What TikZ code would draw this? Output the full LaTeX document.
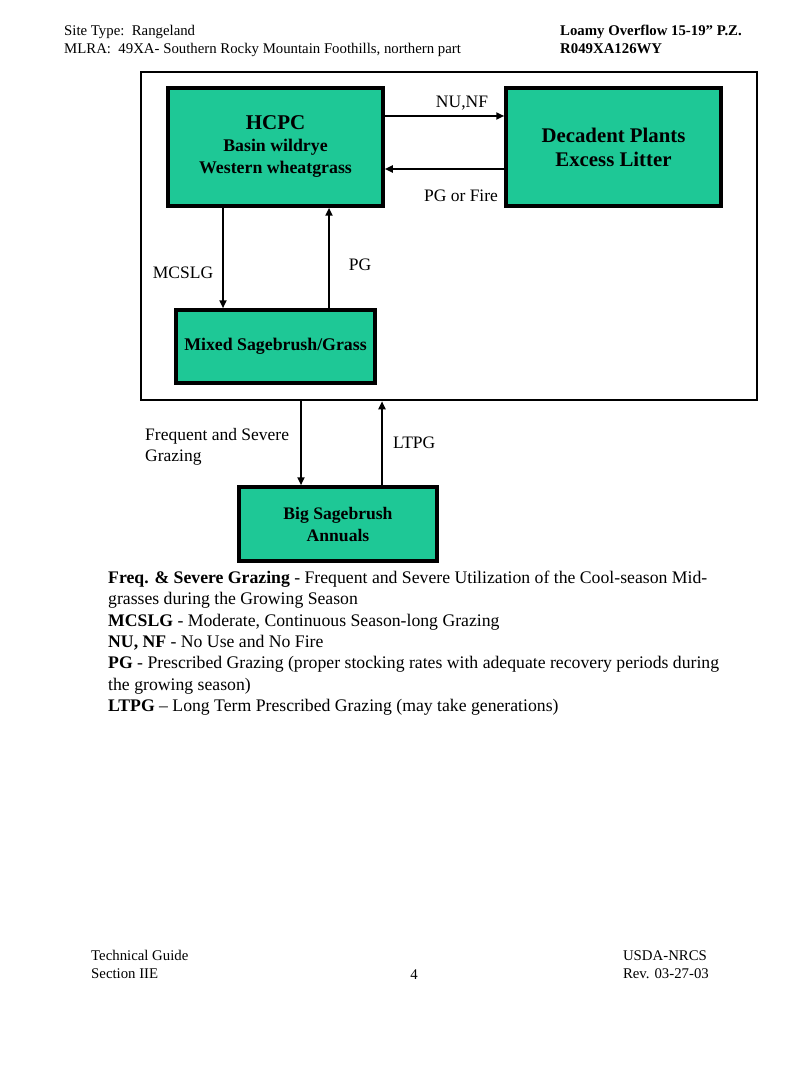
\documentclass[tikz,border=0pt]{standalone}
\usepackage{fontspec}
\setmainfont{Liberation Serif}
\usetikzlibrary{arrows.meta}
\definecolor{boxgreen}{RGB}{30,200,150}
\tikzset{
  statebox/.style={draw=black,line width=3.5pt,fill=boxgreen,inner sep=0pt,align=flush center},
  arr/.style={line width=2.2pt,-{Triangle[length=8pt,width=7pt]}},
  lbl/.style={inner sep=0pt,font=\fontsize{17.5}{21}\selectfont},
  hdr/.style={inner sep=0pt,font=\fontsize{14.8}{18}\selectfont,align=left},
}
\begin{document}
\begin{tikzpicture}[x=1pt,y=-1pt]
\useasboundingbox[fill=white] (0,0) rectangle (800,1067);
% header
\node[hdr,anchor=north west] (h1) at (64,25) {Site Type:\ \ Rangeland\\MLRA:\ \ 49XA- Southern Rocky Mountain Foothills, northern part};
\node[hdr,anchor=north west,font=\fontsize{14.8}{18}\selectfont\bfseries] (h2) at (560,25) {Loamy Overflow 15-19'' P.Z.\\R049XA126WY};
% frame
\node[draw=black,line width=2.5pt,minimum width=616,minimum height=328,inner sep=0pt] (frame) at (449,236) {};
% boxes
\node[statebox,minimum width=215,minimum height=118,text width=205,font=\bfseries\fontsize{17.8}{21.5}\selectfont] (hcpc) at (275.5,147)
  {\fontsize{21}{24}\selectfont HCPC\par\fontsize{17.8}{22}\selectfont Basin wildrye\par Western wheatgrass\par\vspace{-6pt}};
\node[statebox,minimum width=215,minimum height=118,text width=205,font=\bfseries\fontsize{20.8}{24}\selectfont] (dec) at (613.5,147)
  {Decadent Plants\par Excess Litter\par};
\node[statebox,minimum width=199,minimum height=73,text width=195,font=\bfseries\fontsize{17.8}{21}\selectfont] (mix) at (275.5,346.5)
  {Mixed Sagebrush/Grass\par};
\node[statebox,minimum width=198,minimum height=74,text width=190,font=\bfseries\fontsize{17.6}{22}\selectfont] (big) at (338,524)
  {Big Sagebrush\par Annuals\par};
% helper coordinates
\coordinate (yA) at (0,116);
\coordinate (yB) at (0,169);
\coordinate (xA) at (223,0);
\coordinate (xB) at (329,0);
\coordinate (xC) at (301,0);
\coordinate (xD) at (382,0);
% connectors
\draw[arr] (hcpc.east |- yA) -- (dec.west |- yA);
\draw[arr] (dec.west |- yB) -- (hcpc.east |- yB);
\draw[arr] (hcpc.south -| xA) -- (mix.north -| xA);
\draw[arr] (mix.north -| xB) -- (hcpc.south -| xB);
\draw[arr] (frame.south -| xC) -- (big.north -| xC);
\draw[arr] (big.north -| xD) -- (frame.south -| xD);
% labels
\node[lbl] (l1) at (462,103) {NU,NF};
\node[lbl] (l2) at (461,196) {PG or Fire};
\node[lbl] (l3) at (183,273) {MCSLG};
\node[lbl] (l4) at (360,265) {PG};
\node[lbl,anchor=west,align=left] (l5) at (145,447) {Frequent and Severe\\Grazing};
\node[lbl,anchor=west] (l6) at (393,443) {LTPG};
% legend
\node[inner sep=0pt,anchor=north west,align=left,font=\fontsize{17.7}{21.3}\selectfont] (leg) at (108,571)
{\textbf{Freq. \& Severe Grazing} - Frequent and Severe Utilization of the Cool-season Mid-\\
grasses during the Growing Season\\
\textbf{MCSLG} - Moderate, Continuous Season-long Grazing\\
\textbf{NU, NF} - No Use and No Fire\\
\textbf{PG} - Prescribed Grazing (proper stocking rates with adequate recovery periods during\\
the growing season)\\
\textbf{LTPG} -- Long Term Prescribed Grazing (may take generations)};
% footer
\node[hdr,anchor=north west] (f1) at (91,950) {Technical Guide\\Section IIE};
\node[hdr] (f2) at (414,975) {4};
\node[hdr,anchor=north east,align=left] (f3) at (709,950) {USDA-NRCS\\Rev. 03-27-03};
\end{tikzpicture}
\end{document}
